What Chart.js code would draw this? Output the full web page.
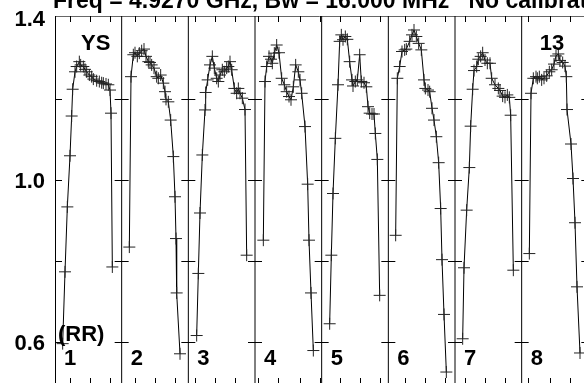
<!DOCTYPE html>
<html>
<head>
<meta charset="utf-8">
<script src="https://cdn.jsdelivr.net/npm/chart.js@4.4.1/dist/chart.umd.min.js"></script>
<style>
  html, body { margin: 0; padding: 0; background: #fff; }
  #plot { display: block; }
</style>
</head>
<body>
<canvas id="plot" width="584" height="383"></canvas>
<script>
// ---- data: position inside each scan panel (0..1) and amplitude ----
var p1f = [0.115,0.15,0.185,0.225,0.25,0.265,0.30,0.325,0.365,0.385,0.425,0.45,0.475,0.515,0.55,0.575,0.625,0.665,0.70,0.725,0.765,0.80,0.825,0.84,0.86];
var p1v = [0.597,0.774,0.934,1.060,1.158,1.224,1.267,1.280,1.292,1.284,1.280,1.273,1.267,1.259,1.255,1.249,1.245,1.243,1.240,1.239,1.237,1.235,1.222,1.165,0.786];
var p2f = [0.115,0.14,0.175,0.20,0.235,0.265,0.30,0.335,0.365,0.40,0.425,0.45,0.485,0.525,0.55,0.585,0.625,0.65,0.665,0.70,0.735,0.775,0.80,0.815,0.825,0.875];
var p2v = [0.835,1.255,1.309,1.314,1.305,1.313,1.319,1.323,1.305,1.292,1.290,1.284,1.276,1.255,1.251,1.259,1.239,1.218,1.199,1.193,1.148,1.058,0.959,0.856,0.722,0.572];
var p3f = [0.125,0.15,0.175,0.21,0.25,0.26,0.29,0.325,0.36,0.39,0.425,0.45,0.475,0.51,0.54,0.575,0.60,0.625,0.65,0.69,0.725,0.75,0.775,0.81,0.85,0.875];
var p3v = [0.617,0.770,0.919,1.062,1.173,1.216,1.247,1.284,1.305,1.276,1.251,1.243,1.259,1.272,1.267,1.276,1.280,1.292,1.272,1.226,1.214,1.226,1.214,1.202,1.174,0.815];
var p4f = [0.125,0.15,0.175,0.21,0.24,0.26,0.29,0.325,0.36,0.40,0.44,0.475,0.51,0.54,0.575,0.61,0.65,0.675,0.70,0.75,0.79,0.81,0.84,0.875];
var p4v = [0.852,1.243,1.280,1.305,1.298,1.288,1.313,1.333,1.314,1.251,1.235,1.218,1.206,1.198,1.230,1.284,1.267,1.247,1.214,1.132,0.990,0.852,0.722,0.580];
var p5f = [0.12,0.145,0.17,0.205,0.245,0.27,0.295,0.32,0.355,0.385,0.42,0.455,0.47,0.505,0.535,0.57,0.595,0.635,0.67,0.695,0.72,0.755,0.785,0.805,0.835,0.87];
var p5v = [0.646,0.815,0.967,1.103,1.235,1.342,1.358,1.346,1.354,1.347,1.292,1.247,1.232,1.243,1.247,1.309,1.243,1.240,1.230,1.181,1.165,1.163,1.163,1.115,1.051,0.716];
var p6f = [0.11,0.135,0.17,0.205,0.245,0.27,0.32,0.355,0.385,0.42,0.455,0.495,0.535,0.555,0.595,0.62,0.655,0.685,0.72,0.755,0.785,0.805,0.835,0.87];
var p6v = [0.864,1.251,1.280,1.317,1.321,1.323,1.342,1.358,1.370,1.354,1.337,1.321,1.247,1.226,1.222,1.218,1.177,1.148,1.107,1.043,0.930,0.804,0.669,0.527];
var p7f = [0.115,0.135,0.175,0.215,0.235,0.265,0.285,0.325,0.35,0.385,0.415,0.45,0.485,0.525,0.55,0.60,0.65,0.675,0.715,0.75,0.785,0.815,0.835,0.875];
var p7v = [0.609,0.784,0.926,1.031,1.133,1.224,1.270,1.280,1.298,1.305,1.314,1.296,1.288,1.288,1.251,1.235,1.226,1.221,1.207,1.204,1.210,1.204,1.160,0.778];
var p8f = [0.115,0.14,0.175,0.215,0.235,0.265,0.30,0.335,0.375,0.415,0.45,0.485,0.515,0.55,0.575,0.615,0.65,0.67,0.68,0.74,0.77,0.80,0.83,0.875];
var p8v = [0.819,1.214,1.251,1.255,1.251,1.255,1.247,1.251,1.257,1.267,1.272,1.286,1.306,1.311,1.295,1.290,1.281,1.255,1.174,1.089,1.004,0.895,0.737,0.574];

var panelF = [p1f, p2f, p3f, p4f, p5f, p6f, p7f, p8f];
var panelV = [p1v, p2v, p3v, p4v, p5v, p6v, p7v, p8v];
var panelNames = ['1', '2', '3', '4', '5', '6', '7', '8'];

var yTickVals = [0.6, 0.8, 1.0, 1.2];
var yLabels = ['0.6', '1.0', '1.4'];
var xTickVals = [0.225,0.525,0.825, 1.2,1.5,1.8, 2.1,2.4,2.7, 3.045,3.345,3.675,3.975,
                 4.275,4.575,4.875, 5.25,5.55,5.85, 6.15,6.45,6.75, 7.095,7.425,7.725];

var titleText = 'Freq = 4.9270 GHz, Bw = 16.000 MHz   No calibration';
var sourceName = 'YS';
var antName = '13';
var polName = '(RR)';

var FONT = 'bold 22px "Liberation Sans", Arial, sans-serif';

// build one dataset per scan
var datasets = [];
for (var k = 0; k < panelF.length; k++) {
  var pts = [];
  for (var i = 0; i < panelF[k].length; i++) {
    pts.push({ x: k + panelF[k][i], y: panelV[k][i] });
  }
  datasets.push({
    data: pts,
    borderColor: '#000',
    borderWidth: 1,
    pointStyle: 'cross',
    pointRadius: 6,
    pointBorderColor: '#222',
    pointBorderWidth: 1,
    tension: 0,
    fill: false
  });
}

// ==================== frame, ticks and panel dividers ====================
var framePlugin = {
  id: 'frame',
  beforeDatasetsDraw: function(chart) {
    var ctx = chart.ctx, a = chart.chartArea;
    var xs = chart.scales.x, ys = chart.scales.y;
    ctx.save();
    ctx.lineWidth = 1;

    // top border
    ctx.strokeStyle = '#666';
    ctx.beginPath();
    ctx.moveTo(a.left, a.top + 0.5);
    ctx.lineTo(a.right, a.top + 0.5);
    ctx.stroke();

    // left axis
    ctx.strokeStyle = '#000';
    ctx.beginPath();
    ctx.moveTo(a.left + 0.5, a.top);
    ctx.lineTo(a.left + 0.5, a.bottom);
    yTickVals.forEach(function(v) {
      var y = Math.round(ys.getPixelForValue(v)) + 0.5;
      ctx.moveTo(a.left, y);
      ctx.lineTo(a.left + 7, y);
    });
    ctx.stroke();

    // panel dividers with ticks on both sides
    for (var k = 1; k <= 8; k++) {
      var x = xs.getPixelForValue(k);
      ctx.beginPath();
      ctx.moveTo(x, a.top);
      ctx.lineTo(x, a.bottom);
      yTickVals.forEach(function(v) {
        var y = Math.round(ys.getPixelForValue(v)) + 0.5;
        ctx.moveTo(x - 7, y);
        ctx.lineTo(x + 7, y);
      });
      ctx.stroke();
    }

    // time ticks top and bottom
    ctx.beginPath();
    xTickVals.forEach(function(v) {
      var x = Math.round(xs.getPixelForValue(v)) + 0.5;
      ctx.moveTo(x, a.top);
      ctx.lineTo(x, a.top + 6);
      ctx.moveTo(x, a.bottom);
      ctx.lineTo(x, a.bottom - 5);
    });
    ctx.stroke();
    ctx.restore();
  },
  afterDraw: function(chart) {
    var ctx = chart.ctx, a = chart.chartArea;
    var xs = chart.scales.x, ys = chart.scales.y;
    ctx.save();
    ctx.fillStyle = '#000';

    // title, clipped by the top of the canvas
    ctx.font = 'bold 23px "Liberation Sans", Arial, sans-serif';
    ctx.textAlign = 'left';
    ctx.textBaseline = 'alphabetic';
    ctx.fillText(titleText, 53, 8);

    // y labels
    ctx.font = FONT;
    ctx.textAlign = 'right';
    ctx.textBaseline = 'middle';
    yLabels.forEach(function(t) {
      ctx.fillText(t, 45, ys.getPixelForValue(parseFloat(t)) + 2);
    });

    // panel numbers and names
    ctx.textAlign = 'left';
    ctx.textBaseline = 'alphabetic';
    panelNames.forEach(function(t, k) {
      ctx.fillText(t, xs.getPixelForValue(k) + 9, 365);
    });
    ctx.fillText(polName, a.left + 3, 341);
    ctx.fillText(sourceName, xs.getPixelForValue(0) + 26, 50);
    ctx.fillText(antName, xs.getPixelForValue(7) + 18, 50);
    ctx.restore();
  }
};

new Chart(document.getElementById('plot'), {
  type: 'scatter',
  data: { datasets: datasets },
  options: {
    responsive: false,
    animation: false,
    devicePixelRatio: 1,
    showLine: true,
    layout: { autoPadding: false, padding: { left: 55, top: 16, right: 0, bottom: 0 } },
    plugins: { legend: { display: false }, tooltip: { enabled: false } },
    scales: {
      x: { type: 'linear', min: 0, max: 529 / 66.667, display: false },
      y: { type: 'linear', min: 0.5, max: 1.4045, display: false }
    }
  },
  plugins: [framePlugin]
});
</script>
</body>
</html>
